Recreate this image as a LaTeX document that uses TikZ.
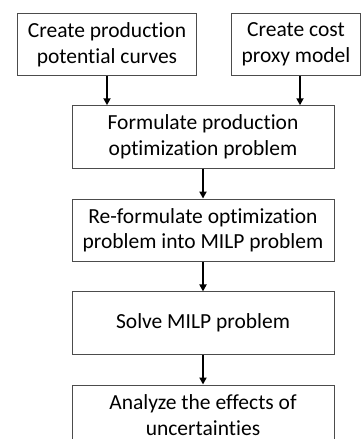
\documentclass[tikz,border=0pt]{standalone}
\usepackage{fontspec}
\setmainfont[Ligatures={NoCommon}]{Carlito}
\usetikzlibrary{arrows.meta}
\begin{document}
\begin{tikzpicture}[x=1pt,y=-1pt,
  stepbox/.style={draw=black!70,line width=1pt,align=center,font=\fontsize{21.5}{25.7}\selectfont,inner sep=0pt},
  flow/.style={line width=1.8pt,-{Triangle[length=7pt,width=7pt]}}]
\useasboundingbox (0,0) rectangle (361,439);
\clip (0,0) rectangle (361,439);
\node[stepbox,minimum width=179pt,minimum height=62.5pt] (a) at (107,44.5) {Create production\\potential curves};
\node[stepbox,minimum width=128.5pt,minimum height=62.5pt] (b) at (296,44.5) {Create cost\\proxy model};
\node[stepbox,minimum width=262pt,minimum height=62.5pt] (c) at (203,137) {Formulate production\\optimization problem};
\node[stepbox,minimum width=262pt,minimum height=62.5pt] (d) at (203,230.3) {Re-formulate optimization\\problem into MILP problem};
\node[stepbox,minimum width=262pt,minimum height=62.5pt] (e) at (203,323.2) {Solve MILP problem};
\node[stepbox,minimum width=262pt,minimum height=60pt] (f) at (203,415) {Analyze the effects of\\uncertainties};
\draw[flow] (a.south -| 107,0) -- (c.north -| 107,0);
\draw[flow] (b.south -| 300,0) -- (c.north -| 300,0);
\draw[flow] (c) -- (d);
\draw[flow] (d) -- (e);
\draw[flow] (e) -- (f);
\end{tikzpicture}
\end{document}
